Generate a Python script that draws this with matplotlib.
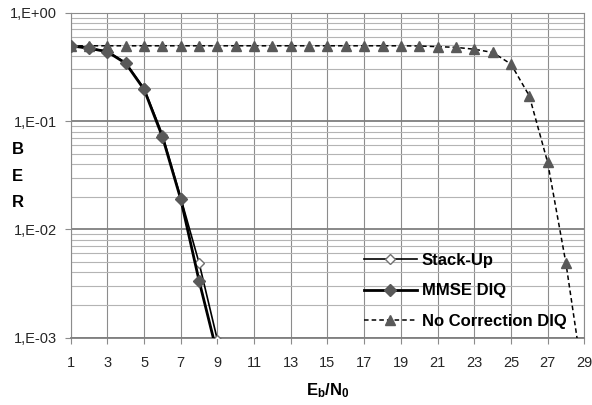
import matplotlib.pyplot as plt
from matplotlib.ticker import LogLocator, NullFormatter, FixedLocator

plt.rcParams['font.family'] = ['Liberation Sans', 'DejaVu Sans']
plt.rcParams['mathtext.fontset'] = 'custom'
plt.rcParams['mathtext.bf'] = 'Liberation Sans:bold'
plt.rcParams['mathtext.rm'] = 'Liberation Sans'

# Eb/N0 points and BER values
x_stack = [1, 2, 3, 4, 5, 6, 7, 8, 9]
ber_stack = [0.495, 0.47, 0.44, 0.345, 0.20, 0.075, 0.0195, 0.0049, 0.00095]

x_mmse = [1, 2, 3, 4, 5, 6, 7, 8, 9]
ber_mmse = [0.495, 0.47, 0.436, 0.341, 0.196, 0.0716, 0.019, 0.00335, 0.0007]

x_nocorr = list(range(1, 30))
ber_nocorr = [0.495, 0.495, 0.495, 0.495, 0.495, 0.495, 0.495, 0.495, 0.495, 0.495,
              0.495, 0.495, 0.495, 0.495, 0.495, 0.495, 0.495, 0.495, 0.495, 0.493,
              0.486, 0.479, 0.46, 0.43, 0.336, 0.171, 0.0416, 0.00485, 0.00035]

x_ticks = list(range(1, 30, 2))
y_ticks = [1e-3, 1e-2, 1e-1, 1e0]
y_ticklabels = ['1,E-03', '1,E-02', '1,E-01', '1,E+00']

fig = plt.figure(figsize=(5.92, 4.05), dpi=100)
ax = fig.add_axes([0.1194, 0.1662, 0.8676, 0.8024])

ax.plot(x_nocorr, ber_nocorr, color='black', linestyle=(0, (3, 2)), linewidth=1.1,
        marker='^', markersize=7.5, markerfacecolor='#595959', markeredgecolor='#595959',
        label='No Correction DIQ', zorder=3)
ax.plot(x_stack, ber_stack, color='black', linewidth=1.2,
        marker='D', markersize=5, markerfacecolor='white', markeredgecolor='#707070',
        markeredgewidth=1.0, label='Stack-Up', zorder=4)
ax.plot(x_mmse, ber_mmse, color='black', linewidth=2.0,
        marker='D', markersize=6.5, markerfacecolor='#595959', markeredgecolor='#595959',
        label='MMSE DIQ', zorder=5)

ax.set_yscale('log')
ax.set_xlim(1, 29)
ax.set_ylim(1e-3, 1)
ax.xaxis.set_major_locator(FixedLocator(x_ticks))
ax.set_xticklabels([str(v) for v in x_ticks])
ax.set_yticks(y_ticks)
ax.set_yticklabels(y_ticklabels)
ax.yaxis.set_minor_locator(LogLocator(base=10, subs=range(2, 10)))
ax.yaxis.set_minor_formatter(NullFormatter())

ax.grid(True, which='major', axis='x', color='#8c8c8c', linewidth=0.8)
ax.grid(True, which='major', axis='y', color='#7f7f7f', linewidth=1.3)
ax.grid(True, which='minor', axis='y', color='#b4b4b4', linewidth=0.8)
ax.set_axisbelow(True)

for sp in ax.spines.values():
    sp.set_color('#8c8c8c')
    sp.set_linewidth(0.8)
ax.spines['bottom'].set_color('#7f7f7f')
ax.spines['bottom'].set_linewidth(1.3)

ax.tick_params(axis='both', which='major', direction='out', length=4, width=0.8,
               color='#8c8c8c', labelsize=10.5, pad=6, labelcolor='#262626')
ax.tick_params(axis='y', which='minor', length=0)
ax.tick_params(axis='x', pad=9)

ax.set_xlabel(r'$\mathbf{E_b/N_0}$', fontsize=12, labelpad=8)
fig.text(0.03, 0.565, 'B\nE\nR', fontsize=12, fontweight='bold', ha='center', va='center',
         linespacing=1.95)

handles, labels = ax.get_legend_handles_labels()
order = [1, 2, 0]
leg = ax.legend([handles[i] for i in order], [labels[i] for i in order],
                loc='lower right', bbox_to_anchor=(0.985, -0.005),
                frameon=False, fontsize=12, handlelength=3.2, handletextpad=0.3,
                labelspacing=0.95, borderaxespad=0.2)
for t in leg.get_texts():
    t.set_fontweight('bold')

fig.savefig('out.png', dpi=100)
